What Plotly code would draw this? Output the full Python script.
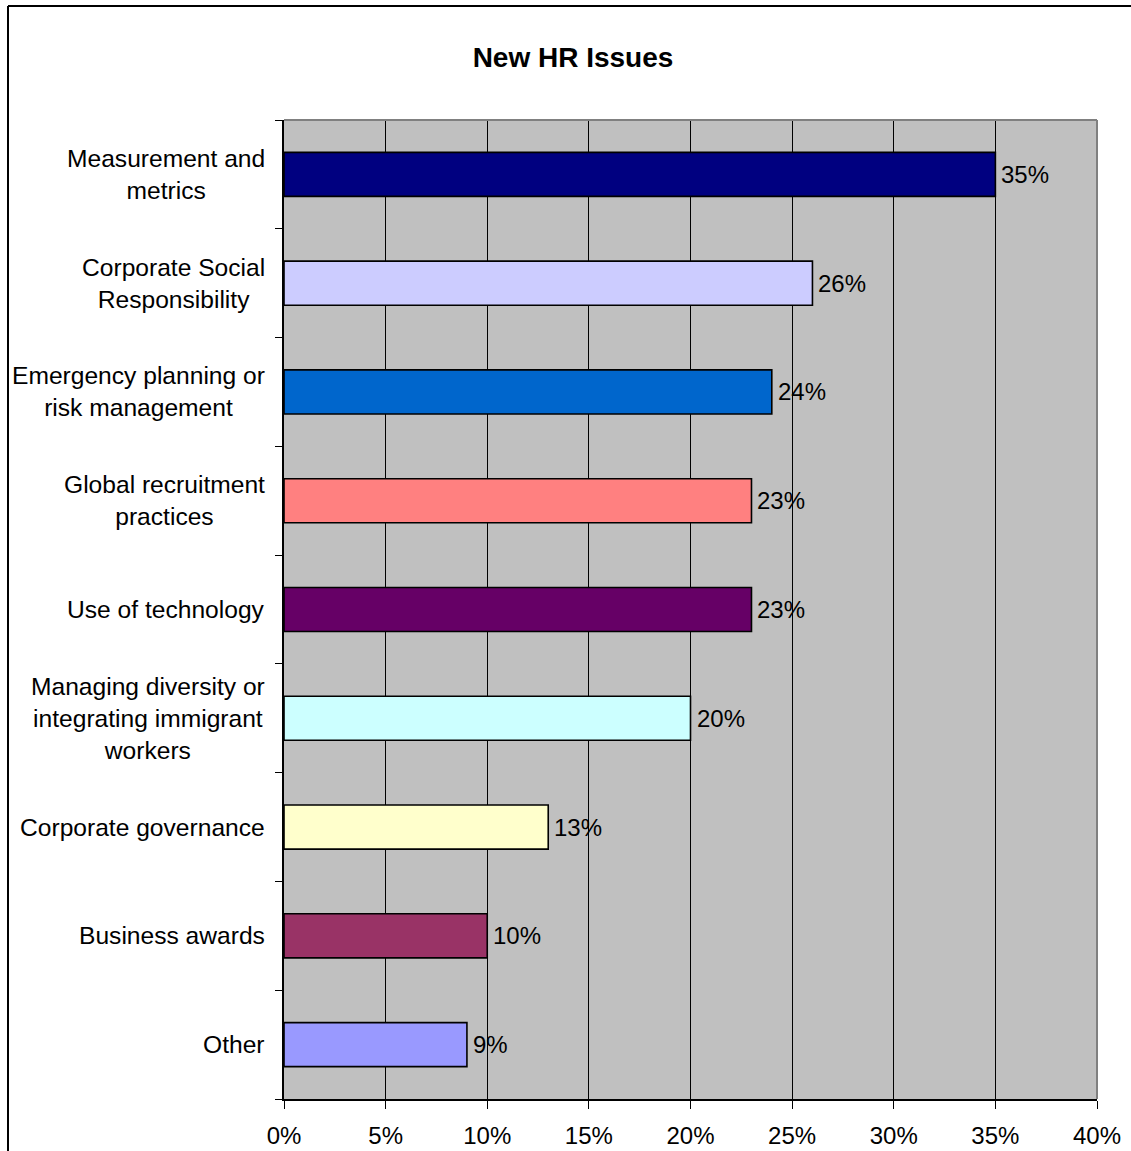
import plotly.graph_objects as go

categories = [
    "Measurement and<br>metrics",
    "Corporate Social<br>Responsibility",
    "Emergency planning or<br>risk management",
    "Global recruitment<br>practices",
    "Use of technology",
    "Managing diversity or<br>integrating immigrant<br>workers",
    "Corporate governance",
    "Business awards",
    "Other",
]
values = [0.35, 0.26, 0.24, 0.23, 0.23, 0.20, 0.13, 0.10, 0.09]
bar_colors = [
    "#000080", "#CCCCFF", "#0066CC", "#FF8080", "#660066",
    "#CCFFFF", "#FFFFCC", "#993366", "#9999FF",
]
x_ticks = [0, 0.05, 0.10, 0.15, 0.20, 0.25, 0.30, 0.35, 0.40]

W, H = 1131, 1151
L, R, T, B = 284, 34, 120, 52
pw, ph = W - L - R, H - T - B

FONT = "Liberation Sans, Arial, sans-serif"

fig = go.Figure(
    go.Bar(
        x=values,
        y=categories,
        orientation="h",
        marker=dict(color=bar_colors, line=dict(color="#000000", width=1.6)),
        hoverinfo="skip",
    )
)

annotations = []
# centred multi-line category labels to the left of the axis
for cat in categories:
    annotations.append(dict(
        x=0, xref="paper", y=cat, yref="y",
        text=cat, showarrow=False, xanchor="right", yanchor="middle",
        align="center", xshift=-17,
        font=dict(family=FONT, size=24.6, color="#000000"),
    ))
# value labels at the end of each bar
for cat, v in zip(categories, values):
    annotations.append(dict(
        x=v, xref="x", y=cat, yref="y",
        text=f"{round(v * 100)}%", showarrow=False,
        xanchor="left", yanchor="middle", xshift=4,
        font=dict(family=FONT, size=24, color="#000000"),
    ))

def px_x(p):
    return (p - L) / pw

def px_y(p):
    return (H - B - p) / ph

shapes = [
    # plot area frame (top and right edges)
    dict(type="line", xref="paper", yref="paper", x0=0, x1=1, y0=1, y1=1,
         line=dict(color="#808080", width=2)),
    dict(type="line", xref="paper", yref="paper", x0=1, x1=1, y0=0, y1=1,
         line=dict(color="#808080", width=2)),
    # chart border
    dict(type="line", xref="paper", yref="paper",
         x0=px_x(8), x1=px_x(W + 5), y0=px_y(6), y1=px_y(6),
         line=dict(color="#000000", width=2)),
    dict(type="line", xref="paper", yref="paper",
         x0=px_x(8), x1=px_x(8), y0=px_y(6), y1=px_y(H + 5),
         line=dict(color="#000000", width=2)),
]

fig.update_layout(
    width=W, height=H,
    margin=dict(l=L, r=R, t=T, b=B, pad=0, autoexpand=False),
    paper_bgcolor="#FFFFFF",
    plot_bgcolor="#C0C0C0",
    bargap=0.595,
    showlegend=False,
    title=dict(
        text="<b>New HR Issues</b>", x=573 / W, xanchor="center",
        y=1 - 57 / H, yanchor="middle",
        font=dict(family=FONT, size=28, color="#000000"),
    ),
    font=dict(family=FONT, size=24, color="#000000"),
    annotations=annotations,
    shapes=shapes,
)

fig.update_xaxes(
    range=[0, 0.40],
    tickvals=x_ticks,
    tickformat=".0%",
    ticks="outside", ticklen=8, tickwidth=1, tickcolor="#000000",
    showgrid=True, gridcolor="#000000", gridwidth=1,
    showline=True, linecolor="#000000", linewidth=2,
    zeroline=False,
    tickfont=dict(family=FONT, size=24, color="#000000"),
    ticklabelstandoff=6,
    automargin=False,
    fixedrange=True,
)
fig.update_yaxes(
    categoryorder="array", categoryarray=categories[::-1],
    showticklabels=False,
    ticks="outside", ticklen=7, tickwidth=1, tickcolor="#000000",
    tickson="boundaries",
    showgrid=False,
    showline=True, linecolor="#000000", linewidth=2,
    zeroline=False,
    automargin=False,
    fixedrange=True,
)

fig.write_html("out.html", config={"displayModeBar": False})
